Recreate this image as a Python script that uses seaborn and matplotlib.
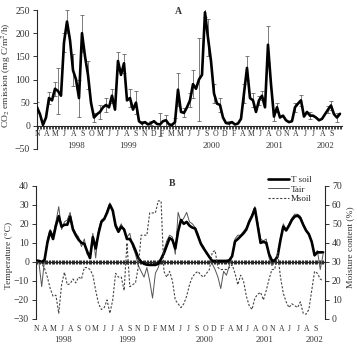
import numpy as np
import pandas as pd
import seaborn as sns
import matplotlib
matplotlib.use("Agg")
import matplotlib.pyplot as plt
from matplotlib.ticker import MultipleLocator
from matplotlib.lines import Line2D

# ---------------- data ----------------
co2 = [40, 25, 2, 18, 60, 55, 80, 75, 65, 180,
       225, 185, 120, 100, 60, 200, 150, 110, 50, 18,
       25, 30, 40, 45, 40, 65, 35, 140, 110, 135,
       55, 60, 35, 50, 10, 5, 8, 3, 6, 10,
       4, 3, 10, 12, 3, 2, 8, 78, 30, 28,
       40, 55, 90, 80, 100, 110, 245, 190, 140, 70,
       48, 45, 18, 6, 5, 8, 3, 5, 15, 70,
       125, 60, 55, 30, 55, 65, 40, 175, 90, 20,
       40, 18, 22, 12, 8, 10, 40, 48, 55, 20,
       30, 22, 22, 18, 12, 15, 25, 35, 44, 25,
       18, 26]
co2_err = [12, 0, 0, 0, 12, 0, 15, 50, 0, 20,
           25, 0, 35, 0, 40, 40, 0, 30, 0, 10,
           0, 15, 0, 15, 0, 15, 0, 20, 0, 20,
           0, 20, 0, 25, 0, 5, 0, 0, 5, 0,
           0, 25, 0, 12, 0, 0, 8, 35, 0, 10,
           0, 15, 30, 0, 90, 0, 10, 40, 0, 20,
           0, 15, 0, 0, 5, 0, 0, 0, 0, 20,
           25, 0, 15, 0, 10, 10, 0, 40, 0, 10,
           10, 0, 0, 0, 0, 0, 10, 0, 12, 0,
           0, 8, 0, 0, 0, 0, 0, 8, 10, 0,
           10, 0]
t_soil = [0.7, 0.5, 0, 1, 10, 16, 12, 19, 24, 18.5,
          19.5, 19.5, 23.8, 17, 14, 11.6, 10, 9.5, 5.5, 2,
          13, 7, 15, 21, 22.5, 25.8, 30, 27, 19, 15.8,
          18.5, 17, 12, 12, 9.5, 6, 2, 0, -1, -1.5,
          -1.6, -1.6, -1.6, -1, 1.5, 4.5, 8.5, 12.5, 11.5, 7,
          16, 22, 20, 21, 19, 18, 17.5, 13.5, 9.5, 7,
          4.8, 2.5, 0.5, 0.5, 0.5, 0.5, 0.5, 0.5, 0.8, 3,
          10.7, 12, 13.5, 15, 17, 21, 24, 28, 19, 10,
          10.5, 10, 4, 0.7, 0.7, 3, 11.5, 18.5, 16.5, 19,
          22, 23.8, 24.3, 23, 19.5, 16.5, 14.5, 10.5, 3.5, 5,
          5, 5]
t_air = [1, 0, -13, 1, 12, 17, 14, 21, 29, 17,
         21, 22, 26, 18, 15, 13, 8, 12, 4, 3,
         15, 2, 17, 22, 23, 27, 31, 26, 20, 17,
         20, 16, 13, 15, 8, 4, -2, -5, -8, -3,
         -10, -19, -6, -3, 2, 6, 11, 14, 13, 4,
         26, 21, 23, 26, 21, 20, 18, 15, 10, 8,
         4, 3, -1, -4, -8, -14, -5, -7, -2, 3,
         12, 14, 14, 16, 18, 22, 25, 29, 21, 12,
         11, 12, 2, -2, 0, 2, 12, 20, 17, 20,
         23, 25, 25, 24, 20, 17, 15, 11, 3, 6,
         -4, 4]
m_soil = [30, 30, 29.3, 26.5, 22, 16, 12, 12.5, 3, 18,
          24.5, 18, 18.5, 21, 19, 22, 21, 27, 27, 26,
          23, 15, 8, 5, 6, 10, 3, 10, 24, 22,
          22, 15, 40, 17, 18, 19, 27.5, 44, 44, 44,
          55.7, 55.7, 55.7, 62, 62, 25, 22, 25, 20, 10,
          8, 6, 8, 12, 18, 22, 24, 25, 23, 22,
          24, 26, 35, 36, 27, 26, 26, 26, 27, 28.5,
          24, 18, 23, 20, 12, 7, 5, 11, 13, 14,
          10, 15, 21, 26, 26, 35, 22, 13.5, 9, 6,
          8, 7, 6, 9, 3, 2.5, 5, 15, 25, 24,
          21, 20]
months = ["N", "A", "M", "J", "A", "S", "O", "M", "J", "J", "A", "S",
          "N", "D", "F", "M", "M", "J", "J", "S", "O", "D", "F", "A",
          "M", "J", "A", "O", "N", "A", "J", "J", "A", "S"]
years = ["1998", "1999", "2000", "2001", "2002"]
year_pos_top = [13, 30.3, 58.3, 79.3, 96.3]
year_pos_bot = [9.5, 32, 59.4, 80.5, 98.1]

# ---------------- style ----------------
sns.set_style("ticks")
plt.rcParams["font.family"] = ["Liberation Serif", "DejaVu Serif"]
plt.rcParams["mathtext.fontset"] = "stix"
plt.rcParams["axes.linewidth"] = 0.8
txt = "#333333"

n = len(co2)
df_top = pd.DataFrame({"idx": np.arange(n), "co2": co2, "err": co2_err})
df_bot = pd.DataFrame({"idx": np.arange(len(t_soil)), "tsoil": t_soil,
                       "tair": t_air, "msoil": m_soil})
month_pos = np.linspace(0.2, 98.2, len(months))
XMAX = 101.67

fig = plt.figure(figsize=(3.57, 3.51), dpi=100)
ax1 = fig.add_axes([37 / 357, 1 - 149 / 351, 305 / 357, 139 / 351])
ax2 = fig.add_axes([36 / 357, 1 - 319 / 351, 289 / 357, 133.3 / 351])

# ---------------- panel A ----------------
e = df_top[df_top["err"] > 0]
ax1.errorbar(e["idx"], e["co2"], yerr=e["err"], fmt="none", ecolor="#666666",
             elinewidth=0.6, capsize=1.5, capthick=0.6, zorder=2)
sns.lineplot(data=df_top, x="idx", y="co2", color="black", linewidth=1.9,
             ax=ax1, zorder=3)
ax1.set_xlim(0, XMAX)
ax1.set_ylim(-50, 250)
ax1.set_yticks(np.arange(-50, 251, 50))
ax1.spines["top"].set_visible(False)
ax1.spines["right"].set_visible(False)
ax1.spines["bottom"].set_position(("data", 0))
ax1.set_xticks(month_pos)
ax1.set_xticklabels(months)
ax1.xaxis.set_minor_locator(MultipleLocator(0.5))
ax1.tick_params(axis="x", which="major", length=0, pad=3, labelsize=5.6, colors=txt)
ax1.tick_params(axis="x", which="minor", length=2.5, width=0.6, direction="out")
ax1.tick_params(axis="y", length=3, width=0.7, labelsize=7, colors=txt, pad=2)
ax1.set_xlabel("")
ax1.set_ylabel("CO$_2$ emission (mg C/m$^2$/h)", fontsize=6.8, color=txt)
ax1.yaxis.set_label_coords(-0.078, 0.53)
for yp, yl in zip(year_pos_top, years):
    ax1.text(yp, -43, yl, ha="center", va="center", fontsize=6.3, color=txt)
fig.text(178 / 357, 1 - 11 / 351, "A", ha="center", va="center",
         fontsize=7, fontweight="bold", color=txt)

# ---------------- panel B ----------------
sns.lineplot(data=df_bot, x="idx", y="tair", color="#555555", linewidth=0.7,
             ax=ax2, zorder=3)
sns.lineplot(data=df_bot, x="idx", y="tsoil", color="black", linewidth=1.9,
             ax=ax2, zorder=4)
ax2.set_xlim(0, XMAX)
ax2.set_ylim(-30, 40)
ax2.set_yticks(np.arange(-30, 41, 10))
for s in ["top", "right", "bottom"]:
    ax2.spines[s].set_visible(False)
ax2.set_xticks(month_pos)
ax2.set_xticklabels(months)
ax2.tick_params(axis="x", which="major", length=0, pad=4, labelsize=5.6, colors=txt)
ax2.tick_params(axis="y", length=3, width=0.7, labelsize=7, colors=txt, pad=2)
ax2.set_xlabel("")
ax2.set_ylabel("Temperature (°C)", fontsize=6.8, color=txt)
ax2.yaxis.set_label_coords(-0.08, 0.48)
for yp, yl in zip(year_pos_bot, years):
    ax2.text(yp, -41, yl, ha="center", va="center", fontsize=6.3, color=txt,
             clip_on=False)

sec = ax2.secondary_xaxis(30 / 70)
sec.set_xticks([])
sec.xaxis.set_minor_locator(MultipleLocator(0.5))
sec.tick_params(which="minor", direction="inout", length=3, width=0.7)
for sp in sec.spines.values():
    sp.set_linewidth(1.0)

ax3 = ax2.twinx()
sns.lineplot(data=df_bot, x="idx", y="msoil", color="#444444", linewidth=0.8,
             ax=ax3, zorder=2)
ax3.lines[-1].set_linestyle((0, (2, 1.5)))
ax3.set_ylim(0, 70)
ax3.set_yticks(np.arange(0, 71, 10))
for s in ["top", "left", "bottom"]:
    ax3.spines[s].set_visible(False)
ax3.tick_params(axis="y", length=3, width=0.7, labelsize=7, colors=txt, pad=2)
ax3.set_ylabel("Moisture content (%)", fontsize=6.8, color=txt, rotation=90)
ax3.yaxis.set_label_coords(1.075, 0.54)
ax3.set_xlim(0, XMAX)

fig.text(172 / 357, 1 - 184 / 351, "B", ha="center", va="center",
         fontsize=7, fontweight="bold", color=txt)

handles = [Line2D([], [], color="black", linewidth=1.9),
           Line2D([], [], color="#555555", linewidth=0.7),
           Line2D([], [], color="#444444", linewidth=0.8, linestyle=(0, (2, 1.5)))]
fig.legend(handles, ["T soil", "Tair", "Msoil"], loc="upper left",
           bbox_to_anchor=(268 / 357, 1 - 176 / 351), frameon=False,
           fontsize=6.5, handlelength=2.3, handletextpad=0.25,
           labelspacing=0.1, borderpad=0, borderaxespad=0)

fig.savefig("out.png", dpi=100, facecolor="white")
